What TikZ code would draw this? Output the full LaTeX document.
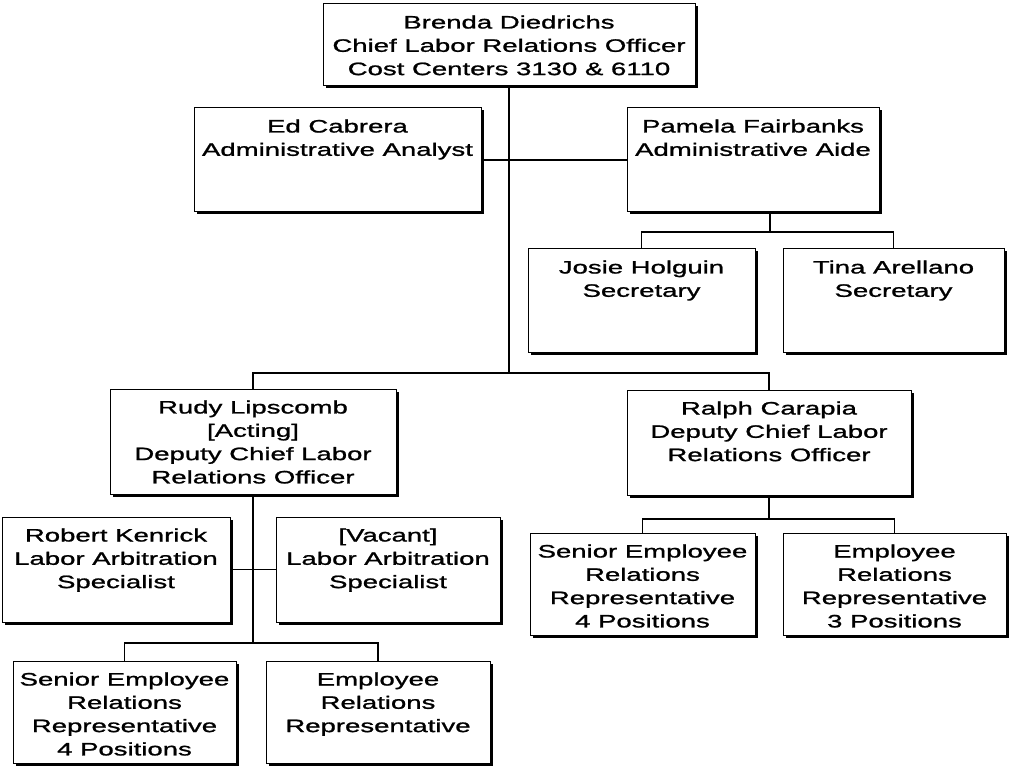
\documentclass[tikz,border=0pt]{standalone}
\usepackage{fontspec}
\setmainfont[FakeStretch=1.53, FakeBold=1.2]{Liberation Sans}
\usetikzlibrary{shadows}
\tikzset{
  orgbox/.style={draw, line width=1pt, fill=white, rectangle, inner sep=0pt,
    drop shadow={shadow xshift=2.5pt, shadow yshift=-2.5pt, opacity=1, fill=black}},
  orgtxt/.style={anchor=base, inner sep=0pt, font=\fontsize{18}{23.3}\selectfont},
  conn/.style={line width=1.3pt},
}
\newcommand\orgunit[6]{%
  \node[orgbox, minimum width=#4pt, minimum height=#5pt] (#1) at (#2,#3) {};
  \node[orgtxt] (#1T) at ([yshift=-25pt]#1.north) {\parbox[t]{#4pt}{\centering #6}};
}
\begin{document}
\begin{tikzpicture}[x=1pt, y=-1pt]
\useasboundingbox[fill=white] (0,0) rectangle (1013,770);

\orgunit{top}{509}{45}{372}{82}{Brenda Diedrichs\\Chief Labor Relations Officer\\Cost Centers 3130 \& 6110}
\orgunit{ed}{337.5}{160}{287}{104}{Ed Cabrera\\Administrative Analyst}
\orgunit{pam}{753}{160}{252}{104}{Pamela Fairbanks\\Administrative Aide}
\orgunit{josie}{641.5}{301}{227}{104}{Josie Holguin\\Secretary}
\orgunit{tina}{893.5}{301}{221}{104}{Tina Arellano\\Secretary}
\orgunit{rudy}{253}{441.5}{286}{105}{Rudy Lipscomb\\{[}Acting{]}\\Deputy Chief Labor\\Relations Officer}
\orgunit{ralph}{769}{442.5}{284}{105}{Ralph Carapia\\Deputy Chief Labor\\Relations Officer}
\orgunit{robert}{116}{569.5}{228}{105}{Robert Kenrick\\Labor Arbitration\\Specialist}
\orgunit{vacant}{388}{569.5}{224}{105}{{[}Vacant{]}\\Labor Arbitration\\Specialist}
\orgunit{senL}{124.5}{712}{223}{102}{Senior Employee\\Relations\\Representative\\4 Positions}
\orgunit{empL}{378}{712}{224}{102}{Employee\\Relations\\Representative}
\orgunit{senR}{642.5}{584}{225}{102}{Senior Employee\\Relations\\Representative\\4 Positions}
\orgunit{empR}{894.5}{584}{223}{102}{Employee\\Relations\\Representative\\3 Positions}

% junction coordinates
\coordinate (tj) at (509,373);
\coordinate (pj) at (770,232);
\coordinate (rj) at (253,643);
\coordinate (aj) at (769,519);

% connectors
\draw[conn] (top.south) -- (tj);
\draw[conn] (ed.east) -- (pam.west);
\draw[conn] (pam.south -| pj) -- (pj);
\draw[conn] (josie.north) |- (pj) -| (tina.north);
\draw[conn] (rudy.north) |- (tj) -| (ralph.north);
\draw[conn] (rudy.south) -- (rj);
\draw[conn] (robert.east) -- (vacant.west);
\draw[conn] (senL.north) |- (rj) -| (empL.north);
\draw[conn] (ralph.south) -- (aj);
\draw[conn] (senR.north) |- (aj) -| (empR.north);
\end{tikzpicture}
\end{document}
